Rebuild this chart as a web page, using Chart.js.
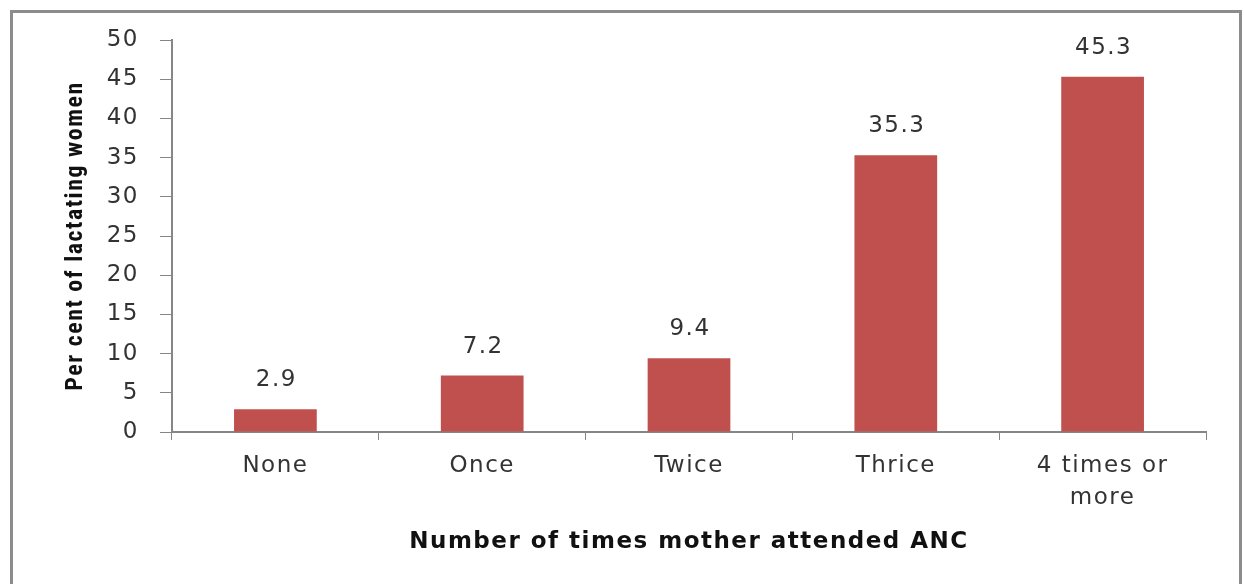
<!DOCTYPE html>
<html>
<head>
<meta charset="utf-8">
<script src="https://cdn.jsdelivr.net/npm/chart.js@4"></script>
<style>
  body { margin: 0; background: #fff; }
  #wrap { width: 1244px; height: 584px; }
</style>
</head>
<body>
<div id="wrap"><canvas id="ancChart" width="1244" height="584"></canvas></div>
<script>
const categories = ['None', 'Once', 'Twice', 'Thrice', ['4 times or', 'more']];
const percents = [2.9, 7.2, 9.4, 35.3, 45.3];
const yTicks = [0, 5, 10, 15, 20, 25, 30, 35, 40, 45, 50];

const axisGray = '#868686';
const textColor = '#333333';

// grey frame around the whole figure, plus a little letter spacing for all text
const framePlugin = {
    id: 'frame',
    beforeDraw(chart) {
        const ctx = chart.ctx;
        ctx.save();
        ctx.strokeStyle = '#8c8c8c';
        ctx.lineWidth = 3;
        ctx.strokeRect(11.5, 11.5, 1229, 600);
        ctx.restore();
        ctx.letterSpacing = '1.5px';
    }
};

// value printed above each bar
const valueLabels = {
    id: 'valueLabels',
    afterDatasetsDraw(chart) {
        const ctx = chart.ctx;
        const meta = chart.getDatasetMeta(0);
        ctx.save();
        ctx.font = '23px "DejaVu Sans"';
        ctx.fillStyle = textColor;
        ctx.textAlign = 'center';
        ctx.textBaseline = 'middle';
        meta.data.forEach((bar, i) => {
            ctx.fillText(percents[i].toFixed(1), bar.x + 1, bar.y - 29);
        });
        ctx.restore();
    }
};

const ctx = document.getElementById('ancChart').getContext('2d');
new Chart(ctx, {
    type: 'bar',
    data: {
        labels: categories,
        datasets: [{
            data: percents,
            backgroundColor: '#C0504D',
            borderWidth: 0,
            categoryPercentage: 1,
            barPercentage: 0.4
        }]
    },
    options: {
        responsive: false,
        animation: false,
        layout: { padding: { left: 58, right: 38, top: 40, bottom: 28 } },
        plugins: {
            legend: { display: false },
            tooltip: { enabled: false }
        },
        scales: {
            x: {
                offset: true,
                grid: {
                    offset: true,
                    drawOnChartArea: false,
                    tickLength: 8,
                    color: axisGray
                },
                border: { color: axisGray, width: 2 },
                ticks: {
                    color: textColor,
                    padding: 10,
                    maxRotation: 0,
                    autoSkip: false,
                    font: { family: 'DejaVu Sans', size: 23, lineHeight: 1.4 }
                },
                title: {
                    display: true,
                    text: 'Number of times mother attended ANC',
                    color: '#111',
                    padding: { top: 0, bottom: 0 },
                    font: { family: 'DejaVu Sans', size: 23, weight: 'bold' }
                },
                afterFit(scale) { scale.height = 124; }
            },
            y: {
                min: 0,
                max: 50,
                afterBuildTicks(scale) {
                    scale.ticks = yTicks.map(v => ({ value: v }));
                },
                grid: {
                    drawOnChartArea: false,
                    tickLength: 12,
                    color: axisGray
                },
                border: { color: axisGray, width: 2 },
                ticks: {
                    color: textColor,
                    padding: 21,
                    font: { family: 'DejaVu Sans', size: 23 }
                },
                title: {
                    display: true,
                    text: 'Per cent of lactating women',
                    color: '#111',
                    padding: { top: 4, bottom: 0 },
                    font: { family: '"Liberation Sans Narrow", "Roboto Condensed", Roboto', size: 24, weight: 'bold' }
                },
                afterFit(scale) { scale.width = 114; }
            }
        }
    },
    plugins: [framePlugin, valueLabels]
});
</script>
</body>
</html>
